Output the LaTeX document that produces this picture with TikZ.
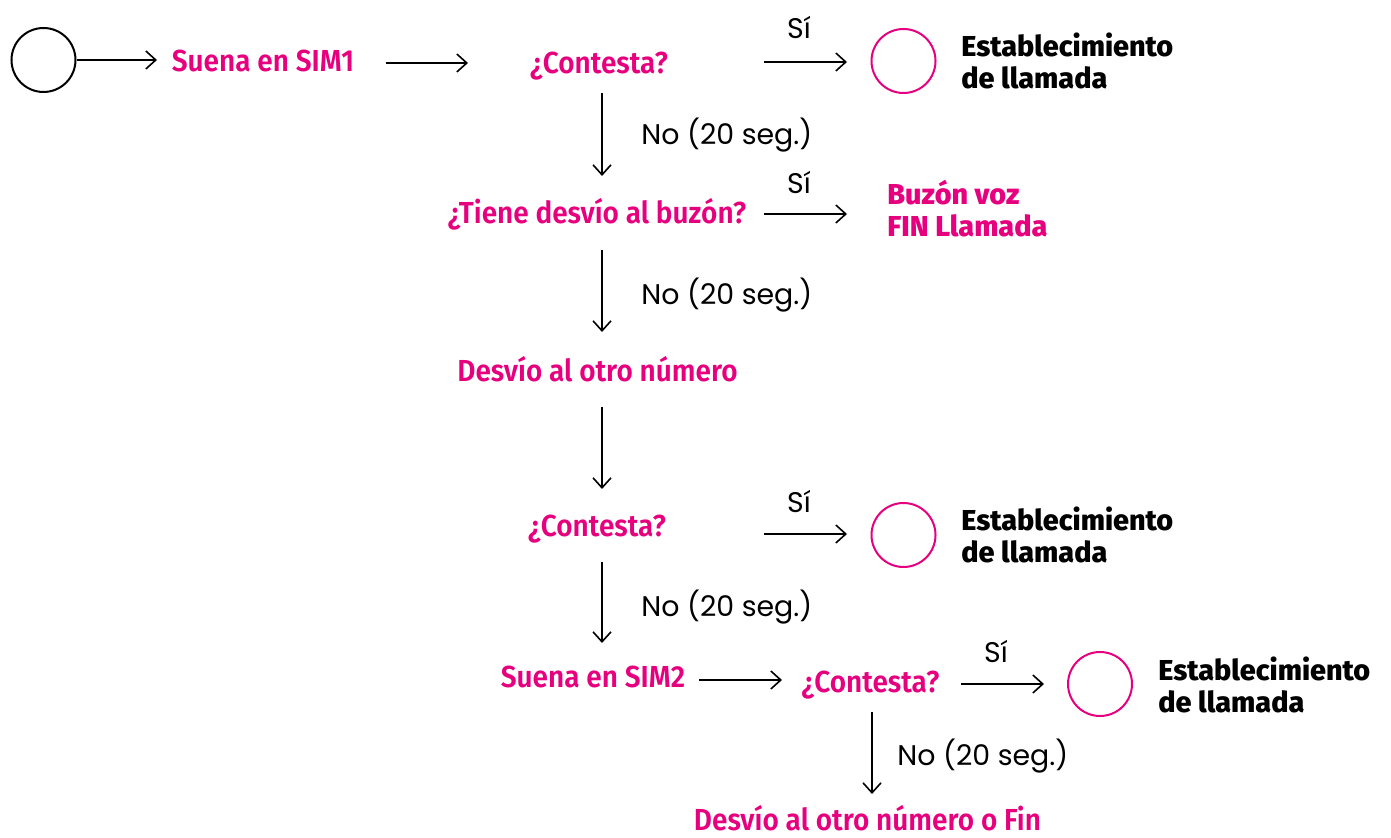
\documentclass[tikz,border=0pt]{standalone}
\usepackage{fontspec}
\usetikzlibrary{arrows.meta}
\setmainfont{Fira Sans}
\IfFontExistsTF{Fira Sans SemiBold}
  {\newfontfamily\pinkfam{Fira Sans SemiBold}[FakeStretch=0.92]\newcommand\pinkf{\pinkfam}}
  {\newfontfamily\pinkfam{Fira Sans}[FakeStretch=0.92]\newcommand\pinkf{\pinkfam\bfseries}}
\IfFontExistsTF{Fira Sans Heavy}
  {\newfontfamily\heavyfam{Fira Sans Heavy}\newcommand\heavyf{\heavyfam}}
  {\IfFontExistsTF{Fira Sans ExtraBold}
    {\newfontfamily\heavyfam{Fira Sans ExtraBold}\newcommand\heavyf{\heavyfam}}
    {\newfontfamily\heavyfam{Fira Sans}\newcommand\heavyf{\heavyfam\bfseries}}}
\newfontfamily\regfam{Poppins}
\definecolor{pinkc}{RGB}{230,0,126}
\tikzset{
  pk/.style={text=pinkc, font=\pinkf\fontsize{15.2}{18}\selectfont, inner sep=0pt, anchor=base},
  hv/.style={font=\heavyf\fontsize{14.4}{17}\selectfont, inner sep=0pt, anchor=base west},
  hvp/.style={hv, text=pinkc},
  lb/.style={font=\regfam\fontsize{14.2}{17}\selectfont, inner sep=0pt, anchor=base west},
  si/.style={font=\regfam\fontsize{14.2}{17}\selectfont, inner sep=0pt, anchor=base},
  arr/.style={-{Straight Barb[length=5pt,width=9pt]}, line width=0.8pt},
  bcirc/.style={circle, draw=black, line width=1pt, minimum size=32pt, inner sep=0pt},
  pcirc/.style={circle, draw=pinkc, line width=1pt, minimum size=32pt, inner sep=0pt},
}
\begin{document}
\begin{tikzpicture}[x=0.5pt, y=-0.5pt]
\useasboundingbox (0,0) rectangle (1391,838);
% start
\node[bcirc] (start) at (43.5,60) {};
\node[pk] (sim1) at (263,72) {Suena en SIM1};
\node[pk] (c1) at (599,74) {¿Contesta?};
\node[si] (si1) at (799,39) {Sí};
\node[pcirc] (e1) at (903.5,61) {};
\node[hv] (e1a) at (961,57) {Establecimiento};
\node[hv] (e1b) at (961,89) {de llamada};
\node[lb] (n1) at (641,145) {No (20 seg.)};
\node[pk] (buz) at (597,224) {¿Tiene desvío al buzón?};
\node[si] (si2) at (799,194) {Sí};
\node[hvp] (bz1) at (887,205) {Buzón voz};
\node[hvp] (bz2) at (887,237) {FIN Llamada};
\node[lb] (n2) at (641,305) {No (20 seg.)};
\node[pk] (desv) at (597.5,382) {Desvío al otro número};
\node[pk] (c2) at (597,537) {¿Contesta?};
\node[si] (si3) at (799,513) {Sí};
\node[pcirc] (e2) at (903.5,535) {};
\node[hv] (e2a) at (961,531) {Establecimiento};
\node[hv] (e2b) at (961,563) {de llamada};
\node[lb] (n3) at (641,617) {No (20 seg.)};
\node[pk] (sim2) at (593,687) {Suena en SIM2};
\node[pk] (c3) at (870.5,692) {¿Contesta?};
\node[si] (si4) at (996,662) {Sí};
\node[pcirc] (e3) at (1100,684) {};
\node[hv] (e3a) at (1158,680) {Establecimiento};
\node[hv] (e3b) at (1158,712) {de llamada};
\node[lb] (n4) at (897,765) {No (20 seg.)};
\node[pk] (fin) at (867.5,830) {Desvío al otro número o Fin};
% arrow end points
\coordinate (q1) at (157,60);
\coordinate (p2) at (386,63); \coordinate (q2) at (468,63);
\coordinate (p3) at (764,62); \coordinate (q3) at (847,62);
\coordinate (p4) at (602,93); \coordinate (q4) at (602,176);
\coordinate (p5) at (764,214); \coordinate (q5) at (847,214);
\coordinate (p6) at (602,250); \coordinate (q6) at (602,332);
\coordinate (p7) at (602,407); \coordinate (q7) at (602,489);
\coordinate (p8) at (764,534); \coordinate (q8) at (847,534);
\coordinate (p9) at (602,562); \coordinate (q9) at (602,643);
\coordinate (p10) at (699,680); \coordinate (q10) at (782,680);
\coordinate (p11) at (961,684); \coordinate (q11) at (1044,684);
\coordinate (p12) at (872,712); \coordinate (q12) at (872,794);
\draw[arr] (start.east) -- (q1);
\draw[arr] (p2) -- (q2);
\draw[arr] (p3) -- (q3);
\draw[arr] (p4) -- (q4);
\draw[arr] (p5) -- (q5);
\draw[arr] (p6) -- (q6);
\draw[arr] (p7) -- (q7);
\draw[arr] (p8) -- (q8);
\draw[arr] (p9) -- (q9);
\draw[arr] (p10) -- (q10);
\draw[arr] (p11) -- (q11);
\draw[arr] (p12) -- (q12);
\end{tikzpicture}
\end{document}
